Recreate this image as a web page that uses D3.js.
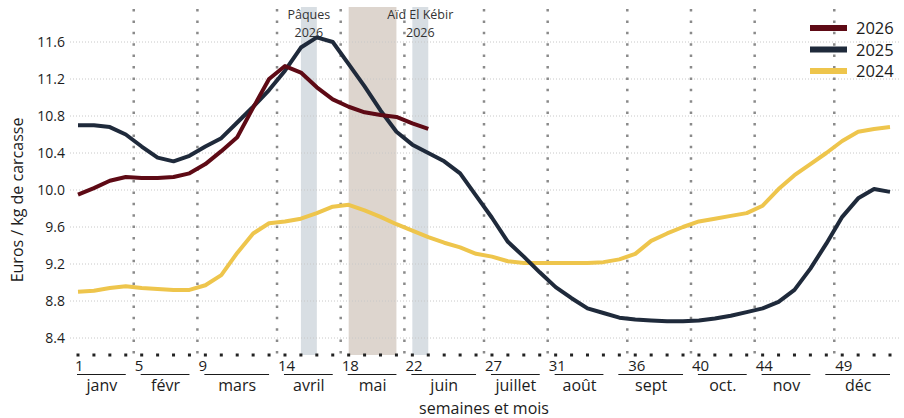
<!DOCTYPE html>
<head>
<meta charset="utf-8">
<script src="https://d3js.org/d3.v7.min.js"></script>
<style>
    body { margin: 0; background: #fff; }
    text {
        font-family: "Open Sans", "Noto Sans", sans-serif;
        fill: #1c1c1c;
    }
    .grid line {
        stroke: #c8c8c8;
        stroke-width: 1px;
        stroke-dasharray: 1, 2;
    }
    .vline {
        stroke: #8a8a8a;
        stroke-width: 2.5px;
        stroke-dasharray: 2.5, 8.9;
    }
    .serie {
        fill: none;
        stroke-width: 4px;
        stroke-linejoin: round;
    }
</style>
</head>
<body>
<svg width="904" height="418"></svg>
<script>
    // weekly values, euros / kg carcass
    var weeks2026 = d3.range(1, 24);
    var values2026 = [9.95, 10.02, 10.10, 10.14, 10.13, 10.13, 10.14, 10.18, 10.28, 10.42,
        10.57, 10.89, 11.20, 11.34, 11.27, 11.11, 10.98, 10.90, 10.84, 10.81,
        10.79, 10.72, 10.66];
    var weeks2025 = d3.range(1, 53);
    var values2025 = [10.70, 10.70, 10.68, 10.60, 10.47, 10.35, 10.31, 10.37, 10.47, 10.56,
        10.73, 10.90, 11.08, 11.29, 11.54, 11.65, 11.60, 11.36, 11.12, 10.86,
        10.63, 10.49, 10.40, 10.31, 10.18, 9.94, 9.70, 9.44, 9.28, 9.11,
        8.95, 8.83, 8.72, 8.67, 8.62, 8.60, 8.59, 8.58, 8.58, 8.59,
        8.61, 8.64, 8.68, 8.72, 8.79, 8.92, 9.15, 9.42, 9.71, 9.91,
        10.01, 9.98];
    var weeks2024 = d3.range(1, 53);
    var values2024 = [8.90, 8.91, 8.94, 8.96, 8.94, 8.93, 8.92, 8.92, 8.97, 9.08,
        9.32, 9.53, 9.64, 9.66, 9.69, 9.75, 9.82, 9.84, 9.78, 9.71,
        9.63, 9.56, 9.49, 9.43, 9.38, 9.31, 9.28, 9.23, 9.21, 9.21,
        9.21, 9.21, 9.21, 9.22, 9.25, 9.31, 9.45, 9.53, 9.60, 9.66,
        9.69, 9.72, 9.75, 9.83, 10.01, 10.16, 10.28, 10.40, 10.53, 10.63,
        10.66, 10.68];

    var seriesNames = ["2026", "2025", "2024"];
    var seriesColors = ["#5e0a15", "#1f2a3b", "#eec54c"];

    var yTicks = [8.4, 8.8, 9.2, 9.6, 10.0, 10.4, 10.8, 11.2, 11.6];

    // first week of each month, label and underline span (weeks)
    var monthNames = ["janv", "févr", "mars", "avril", "mai", "juin", "juillet", "août", "sept", "oct.", "nov", "déc"];
    var monthFirstWeek = [1, 5, 9, 14, 18, 22, 27, 31, 36, 40, 44, 49];
    var monthLineStart = [1, 5, 9, 14, 18, 22, 27, 31, 35, 40, 44, 48];
    var monthLineEnd = [4, 8, 13, 17, 21, 26, 30, 34, 39, 43, 47, 52];

    // highlighted weeks: [first, last]
    var bandWeeks = [[15, 15], [18, 20], [22, 22]];
    var bandColors = ["#d8dee3", "#ddd5ce", "#d8dee3"];
    var bandLabels = [["Pâques", "2026"], null, ["Aïd El Kébir", "2026"]];

    var svg = d3.select("svg");

    var x = d3.scaleLinear().domain([1, 52]).range([78, 890]);
    var y = d3.scaleLinear().domain([8.4, 11.6]).range([338, 42]);
    var yBottom = 355, yTop = 7;

    // shaded weeks
    bandWeeks.forEach(function (b, i) {
        var cx = (x(b[0]) + x(b[1] + 1)) / 2;
        svg.append("rect")
            .attr("x", x(b[0]))
            .attr("y", yTop)
            .attr("width", x(b[1] + 1) - x(b[0]))
            .attr("height", yBottom - yTop)
            .style("fill", bandColors[i]);
        if (bandLabels[i]) {
            bandLabels[i].forEach(function (s, k) {
                svg.append("text")
                    .attr("x", cx)
                    .attr("y", 19 + k * 17.5)
                    .attr("text-anchor", "middle")
                    .style("font-size", "12.5px")
                    .style("fill", "#333")
                    .text(s);
            });
        }
    });

    // horizontal grid
    svg.append("g")
        .attr("class", "grid")
        .selectAll("line")
        .data(yTicks)
        .enter().append("line")
        .attr("x1", 70).attr("x2", 900)
        .attr("y1", function (d) { return y(d); })
        .attr("y2", function (d) { return y(d); });

    // y labels
    svg.append("g")
        .selectAll("text")
        .data(yTicks)
        .enter().append("text")
        .attr("x", 65)
        .attr("y", function (d) { return y(d) + 5; })
        .attr("text-anchor", "end")
        .style("font-size", "14px")
        .text(function (d) { return d3.format(".1f")(d); });

    svg.append("text")
        .attr("transform", "translate(23,200) rotate(-90)")
        .attr("text-anchor", "middle")
        .style("font-size", "16px")
        .text("Euros / kg de carcasse");

    // month separators
    svg.append("g")
        .selectAll("line")
        .data(monthFirstWeek.slice(1))
        .enter().append("line")
        .attr("class", "vline")
        .attr("x1", function (d) { return x(d - 0.5); })
        .attr("x2", function (d) { return x(d - 0.5); })
        .attr("y1", 9).attr("y2", yBottom);

    // week dots along the bottom
    svg.append("g")
        .selectAll("rect")
        .data(d3.range(1, 53))
        .enter().append("rect")
        .attr("x", function (d) { return x(d) - 1.5; })
        .attr("y", yBottom - 1.5)
        .attr("width", 3).attr("height", 3)
        .style("fill", "#222");

    // lines
    var line = d3.line()
        .x(function (d) { return x(d[0]); })
        .y(function (d) { return y(d[1]); });

    var allWeeks = [weeks2026, weeks2025, weeks2024];
    var allValues = [values2026, values2025, values2024];
    [2, 1, 0].forEach(function (i) {
        svg.append("path")
            .attr("class", "serie")
            .style("stroke", seriesColors[i])
            .attr("d", line(d3.zip(allWeeks[i], allValues[i])));
    });

    // x axis: week numbers, underline, month names
    var xa = svg.append("g");
    monthNames.forEach(function (m, i) {
        var w = monthFirstWeek[i];
        xa.append("text")
            .attr("x", w == 1 ? x(1) - 3 : x(w - 0.5) + 1)
            .attr("y", 371)
            .style("font-size", "15px")
            .text(w);
        xa.append("line")
            .attr("x1", x(monthLineStart[i]) - 1)
            .attr("x2", x(monthLineEnd[i]))
            .attr("y1", 374.5).attr("y2", 374.5)
            .style("stroke", "#1a1a1a")
            .style("stroke-width", 1.2);
        xa.append("text")
            .attr("x", (x(monthLineStart[i]) + x(monthLineEnd[i])) / 2)
            .attr("y", 391)
            .attr("text-anchor", "middle")
            .style("font-size", "16px")
            .text(m);
    });

    svg.append("text")
        .attr("x", (x(1) + x(52)) / 2)
        .attr("y", 414)
        .attr("text-anchor", "middle")
        .style("font-size", "16px")
        .text("semaines et mois");

    // legend
    seriesNames.forEach(function (s, i) {
        var ly = 28 + i * 21.5;
        svg.append("rect")
            .attr("x", 810).attr("y", ly - 3)
            .attr("width", 37).attr("height", 6)
            .style("fill", seriesColors[i]);
        svg.append("text")
            .attr("x", 856).attr("y", ly + 6)
            .style("font-size", "16.5px")
            .text(s);
    });
</script>
</body>
